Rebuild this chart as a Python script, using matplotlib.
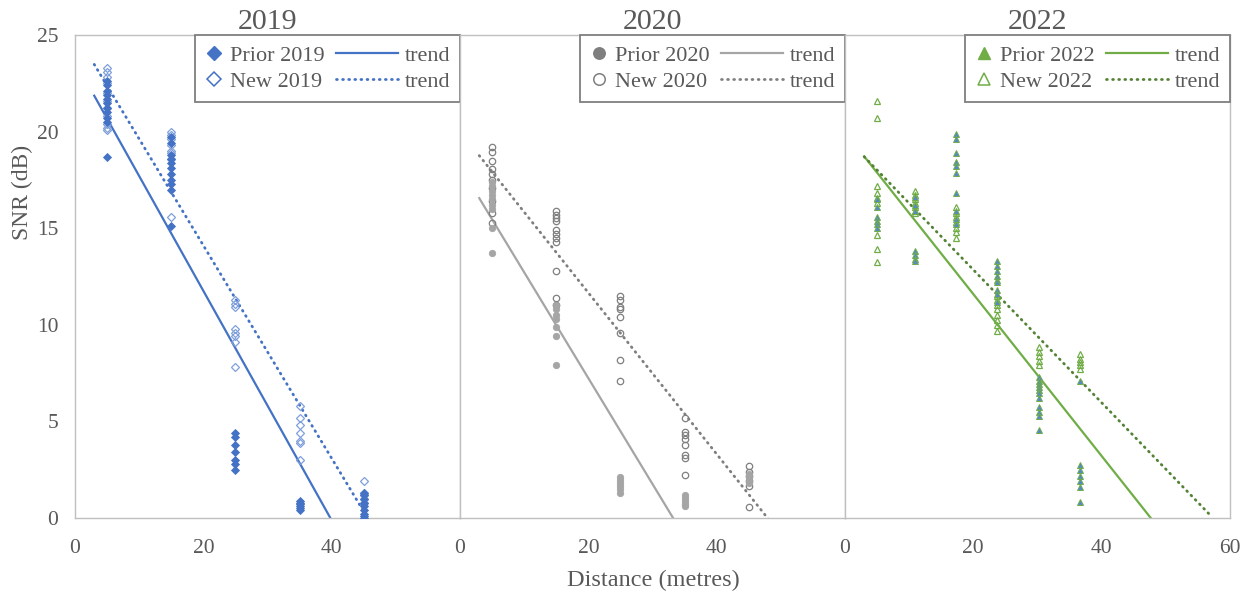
import numpy as np
import matplotlib
matplotlib.use("Agg")
import matplotlib.pyplot as plt
from matplotlib.legend_handler import HandlerLine2D

plt.rcParams['font.family'] = ['Liberation Serif', 'DejaVu Serif']

# distances (m) of the measuring points in each year
x_2019 = [5, 15, 25, 35, 45]
x_2020 = [5, 15, 25, 35, 45]
x_2022 = [5.0, 10.9, 17.3, 23.75, 30.2, 36.7]

# SNR readings (dB) at each distance
prior_2019 = [[22.6, 22.4, 22.1, 21.9, 21.7, 21.5, 21.2, 21.0, 20.7, 20.5, 18.7],
              [19.7, 19.4, 18.8, 18.6, 18.4, 18.1, 17.8, 17.5, 17.3, 17.0, 15.1],
              [4.4, 4.2, 3.8, 3.4, 3.0, 2.8, 2.5],
              [0.9, 0.8, 0.7, 0.6, 0.5, 0.4],
              [1.3, 1.2, 1.0, 0.8, 0.6, 0.4, 0.2, 0.1, 0.0]]
new_2019 = [[23.3, 23.1, 22.8, 22.5, 22.0, 21.6, 21.2, 20.8, 20.4, 20.2, 20.1],
            [20.0, 19.8, 19.6, 19.3, 19.0, 18.9, 18.6, 15.6],
            [11.3, 11.1, 10.9, 9.8, 9.6, 9.4, 9.1, 7.8],
            [5.8, 5.2, 4.8, 4.4, 4.0, 3.9, 3.0],
            [1.9, 1.3, 1.2, 1.0, 0.8]]

prior_2020 = [[17.4, 17.2, 16.9, 16.7, 16.5, 16.2, 16.0, 15.0, 13.7],
              [11.0, 10.8, 10.5, 10.3, 9.9, 9.4, 7.9],
              [2.1, 1.95, 1.8, 1.65, 1.5, 1.3],
              [1.2, 1.05, 0.9, 0.75, 0.6],
              [2.3, 2.1, 1.95, 1.8]]
new_2020 = [[19.2, 18.95, 18.5, 18.05, 17.8, 17.5, 17.1, 16.4, 15.8, 15.25],
            [15.9, 15.7, 15.55, 15.35, 14.9, 14.7, 14.5, 14.3, 12.8, 11.4, 11.0],
            [11.5, 11.3, 10.9, 10.8, 10.4, 9.55, 8.2, 7.1],
            [5.2, 4.45, 4.3, 4.1, 3.8, 3.25, 3.1, 2.25],
            [2.7, 2.4, 2.15, 1.9, 1.65, 0.55]]

prior_2022 = [[16.5, 16.1, 15.6, 15.35, 15.2, 15.0],
              [16.6, 16.2, 15.9, 13.8, 13.6, 13.4, 13.3],
              [19.9, 19.6, 18.9, 18.45, 18.2, 17.85, 16.8, 15.9, 15.5, 15.2],
              [13.3, 13.05, 12.8, 12.5, 12.3, 12.2, 11.8, 11.6, 11.2],
              [7.3, 7.1, 6.95, 6.8, 6.6, 6.45, 6.2, 5.75, 5.5, 5.3, 4.55],
              [7.1, 2.75, 2.5, 2.15, 1.9, 1.6, 0.85]]
new_2022 = [[21.6, 20.7, 17.2, 16.8, 16.55, 16.3, 14.65, 13.9, 13.25],
            [16.9, 16.7, 16.5, 16.3, 16.1, 15.9, 15.8],
            [16.1, 15.8, 15.6, 15.3, 15.0, 14.8, 14.5],
            [11.5, 11.3, 11.0, 10.8, 10.5, 10.25, 10.0, 9.7],
            [8.85, 8.6, 8.4, 8.15, 7.9],
            [8.5, 8.25, 8.1, 7.9, 7.7]]

# linear trends (slope, intercept) and the x span they are drawn over
trend_prior_2019 = (-0.594, 23.64)
trend_new_2019 = (-0.551, 25.13)
trend_prior_2020 = (-0.548, 18.20)
trend_new_2020 = (-0.4175, 20.01)
trend_prior_2022 = (-0.419, 19.97)
trend_new_2022 = (-0.344, 19.73)
span_2019 = [3, 65]
span_2020 = [3, 65]
span_2022 = [3, 56.7]

years = ['2019', '2020', '2022']

txt = '#595959'


def flat(xs, groups):
    xx = np.concatenate([[x] * len(g) for x, g in zip(xs, groups)])
    yy = np.concatenate(groups)
    return xx, yy


class LongLine(HandlerLine2D):
    # trend handles are drawn longer than the marker handles
    def get_xdata(self, legend, xdescent, ydescent, width, height, fontsize):
        xd = np.array([-xdescent + width - 3.5 * width, -xdescent + width])
        return xd, xd


fig, axes = plt.subplots(1, 3, sharey=True, figsize=(12.52, 5.95), dpi=100)
plt.subplots_adjust(left=0.0599, right=0.9824, bottom=0.1294, top=0.9412, wspace=0)

panels = [
    (x_2019, prior_2019, new_2019, trend_prior_2019, trend_new_2019, span_2019,
     dict(marker='D', ms=4.0, mfc='#4472C4', mec='#4472C4', mew=0.6),
     dict(marker='D', ms=4.0, mfc='none', mec='#7f9fdb', mew=0.9),
     '#4472C4', '#4472C4', '#4472C4', '#4472C4'),
    (x_2020, prior_2020, new_2020, trend_prior_2020, trend_new_2020, span_2020,
     dict(marker='o', ms=4.6, mfc='#a5a5a5', mec='#a5a5a5', mew=0.6),
     dict(marker='o', ms=4.6, mfc='none', mec='#7f7f7f', mew=0.9),
     '#a5a5a5', '#7f7f7f', '#7f7f7f', '#7f7f7f'),
    (x_2022, prior_2022, new_2022, trend_prior_2022, trend_new_2022, span_2022,
     dict(marker='^', ms=5, mfc='#5588c8', mec='#70ad47', mew=0.7),
     dict(marker='^', ms=5, mfc='none', mec='#70ad47', mew=0.9),
     '#70ad47', '#548235', '#70ad47', '#70ad47'),
]

for ax, year, p in zip(axes, years, panels):
    xs, pr, nw, tp, tn, span, st_p, st_n, c_solid, c_dot, c_legp, c_legn = p
    px, py = flat(xs, pr)
    nx, ny = flat(xs, nw)
    ax.plot(nx, ny, ls='none', zorder=3, **st_n)
    ax.plot(px, py, ls='none', zorder=3, **st_p)
    tx = np.array(span, dtype=float)
    l1, = ax.plot(tx, tp[0] * tx + tp[1], color=c_solid, lw=1.6, zorder=2)
    l2, = ax.plot(tx, tn[0] * tx + tn[1], color=c_dot, lw=2.0,
                  ls=(0, (0.3, 1.9)), dash_capstyle='round', zorder=2)

    hp = plt.Line2D([], [], ls='none', marker=st_p['marker'], ms=st_p['ms'] * 1.8,
                    mfc=c_legp, mec=c_legp)
    hn = plt.Line2D([], [], ls='none', marker=st_n['marker'], ms=st_n['ms'] * 1.8,
                    mfc='none', mec=c_legn, mew=1.1)
    leg = ax.legend([hp, hn, l1, l2],
                    ['Prior ' + year, 'New ' + year, 'trend', 'trend'],
                    ncol=2, loc='upper right', borderaxespad=0, fontsize=16,
                    handlelength=0.8, handletextpad=0.3, columnspacing=2.5,
                    labelspacing=0.25, borderpad=0.45, fancybox=False,
                    edgecolor='#7f7f7f', framealpha=1,
                    handler_map={l1: LongLine(), l2: LongLine()})
    leg.get_frame().set_linewidth(1.3)
    for t in leg.get_texts():
        t.set_color(txt)

    ax.set_xlim(0, 60)
    ax.set_ylim(0, 25)
    ax.set_title(year, fontsize=21.5, color=txt, pad=1)
    for s in ax.spines.values():
        s.set_color('#bfbfbf')
        s.set_linewidth(1.0)
    ax.tick_params(axis='y', length=0, labelsize=15.5, labelcolor=txt, pad=12)
    ax.tick_params(axis='x', length=0, labelsize=15.5, labelcolor=txt, pad=15)

axes[0].set_xticks([0, 20, 40])
axes[1].set_xticks([0, 20, 40])
axes[2].set_xticks([0, 20, 40, 60])
axes[0].set_yticks([0, 5, 10, 15, 20, 25])

fig.text(22 / 1252, 1 - 192 / 595, 'SNR (dB)', rotation=90, ha='center', va='center',
         fontsize=17, color=txt)
fig.text(653 / 1252, 1 - 580 / 595, 'Distance (metres)', ha='center', va='center',
         fontsize=17.5, color=txt)

fig.savefig('out.png', dpi=100)
